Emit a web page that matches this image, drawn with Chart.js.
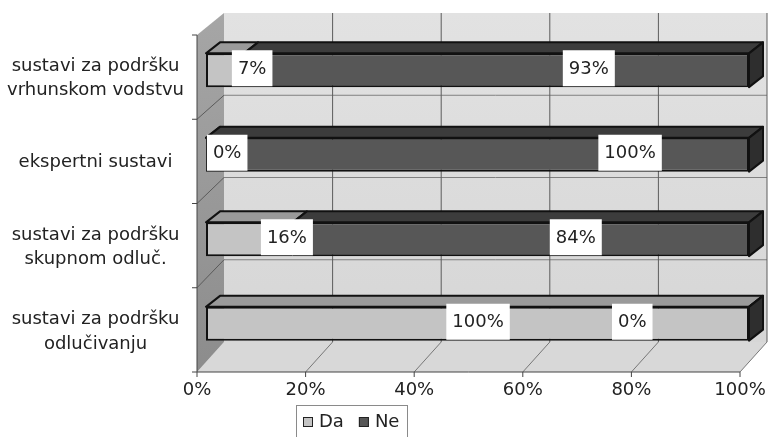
<!DOCTYPE html>
<html lang="hr">
<head>
<meta charset="utf-8">
<title>Sustavi za podršku</title>
<script src="https://cdn.jsdelivr.net/npm/chart.js@4.4.1/dist/chart.umd.min.js"></script>
<style>
  html, body { margin: 0; padding: 0; background: #fff; }
  #graf { display: block; }
</style>
</head>
<body>
<canvas id="graf" width="772" height="437"></canvas>
<script>
// podaci grafikona
const kategorije = [
  ['sustavi za podršku', 'vrhunskom vodstvu'],
  'ekspertni sustavi',
  ['sustavi za podršku', 'skupnom odluč.'],
  ['sustavi za podršku', 'odlučivanju']
];
const postotakDa = [7, 0, 16, 100];
const postotakNe = [93, 100, 84, 0];
const oznakeOsiX = [0, 20, 40, 60, 80, 100];

// sredine bijelih okvira s postocima, u jedinicama osi x
const sredinaOznakaDa = [8.5, 3.9, 14.9, 50.1];
const sredinaOznakaNe = [70.5, 78.1, 68.1, 78.5];

const FONT = 'DejaVu Sans';
const DUBINA_X = 14, DUBINA_Y = 11; // dubina samih stupaca

// pomoćne funkcije za crtanje
function linija(ctx, x1, y1, x2, y2) {
  ctx.beginPath();
  ctx.moveTo(x1, y1);
  ctx.lineTo(x2, y2);
  ctx.stroke();
}
function poligon(ctx, tocke, ispuna, rub) {
  ctx.beginPath();
  tocke.forEach((t, i) => i ? ctx.lineTo(t[0], t[1]) : ctx.moveTo(t[0], t[1]));
  ctx.closePath();
  if (ispuna) { ctx.fillStyle = ispuna; ctx.fill(); }
  if (rub) { ctx.strokeStyle = rub; ctx.stroke(); }
}

// prednja ravnina (os) i stražnji zid, izvedeno iz skale x i chartArea
function geometrija(chart) {
  const ca = chart.chartArea, xs = chart.scales.x;
  return {
    predX: v => xs.getPixelForValue(v) - 9,
    straX: v => xs.getPixelForValue(v) + 18,
    predGore: ca.top + 7,
    predDolje: ca.bottom + 6,
    straGore: ca.top - 15,
    straDolje: ca.bottom - 24
  };
}

// bez dodatnog razmaka koji skala rezervira za rubne oznake
function bezRubnogRazmaka(s) {
  s.paddingLeft = 0;
  s.paddingRight = 0;
  s.paddingTop = 0;
  s.paddingBottom = 0;
}

// zidovi, pod i mreža
const prostor = {
  id: 'prostor',
  beforeDatasetsDraw(chart) {
    const ctx = chart.ctx, g = geometrija(chart);
    const n = kategorije.length;
    ctx.save();

    // stražnji zid
    const zid = ctx.createLinearGradient(0, g.straGore, 0, g.straDolje);
    zid.addColorStop(0, '#e2e2e2');
    zid.addColorStop(1, '#d6d6d6');
    ctx.fillStyle = zid;
    ctx.fillRect(g.straX(0), g.straGore, g.straX(100) - g.straX(0), g.straDolje - g.straGore);

    // pod
    poligon(ctx, [[g.predX(0), g.predDolje], [g.straX(0), g.straDolje],
      [g.straX(100), g.straDolje], [g.predX(100), g.predDolje]], '#d8d8d8');

    // lijevi zid
    const bok = ctx.createLinearGradient(0, g.straGore, 0, g.predDolje);
    bok.addColorStop(0, '#a6a6a6');
    bok.addColorStop(1, '#8c8c8c');
    poligon(ctx, [[g.predX(0), g.predGore], [g.straX(0), g.straGore],
      [g.straX(0), g.straDolje], [g.predX(0), g.predDolje]], bok);

    ctx.lineWidth = 1;
    // vodoravne crte kategorija na stražnjem i lijevom zidu
    for (let i = 0; i <= n; i++) {
      const yS = g.straGore + i * (g.straDolje - g.straGore) / n;
      const yP = g.predGore + i * (g.predDolje - g.predGore) / n;
      ctx.strokeStyle = '#808080';
      if (i > 0 && i < n) linija(ctx, g.straX(0), yS, g.straX(100), yS);
      ctx.strokeStyle = '#5a5a5a';
      if (i > 0 && i < n) linija(ctx, g.predX(0), yP, g.straX(0), yS);
      ctx.strokeStyle = '#444';
      linija(ctx, g.predX(0) - 5, yP, g.predX(0), yP);
    }

    // okomite crte mreže i dijagonale na podu
    oznakeOsiX.forEach(v => {
      ctx.strokeStyle = '#5c5c5c';
      if (v > 0) linija(ctx, g.straX(v), g.straGore, g.straX(v), g.straDolje);
      ctx.strokeStyle = '#777';
      if (v > 0) linija(ctx, g.predX(v), g.predDolje, g.straX(v), g.straDolje);
      ctx.strokeStyle = '#444';
      linija(ctx, g.predX(v), g.predDolje, g.predX(v), g.predDolje + 5);
    });

    // osi
    ctx.strokeStyle = '#444';
    linija(ctx, g.predX(0), g.predGore, g.predX(0), g.predDolje);
    linija(ctx, g.predX(0), g.predDolje, g.predX(100), g.predDolje);
    ctx.restore();
  },

  // gornje plohe i desni bok stupaca
  afterDatasetsDraw(chart) {
    const ctx = chart.ctx;
    const zadnji = chart.data.datasets.length - 1;
    ctx.save();
    ctx.lineWidth = 2;
    ctx.lineJoin = 'round';
    chart.data.datasets.forEach((ds, di) => {
      chart.getDatasetMeta(di).data.forEach(bar => {
        const p = bar.getProps(['x', 'y', 'base', 'height'], true);
        const x0 = Math.min(p.x, p.base), x1 = Math.max(p.x, p.base);
        const yG = p.y - p.height / 2, yD = p.y + p.height / 2;
        poligon(ctx, [[x0, yG], [x0 + DUBINA_X, yG - DUBINA_Y],
          [x1 + DUBINA_X, yG - DUBINA_Y], [x1, yG]], ds.bojaVrha, '#111');
        if (di === zadnji) {
          poligon(ctx, [[x1, yG], [x1 + DUBINA_X, yG - DUBINA_Y],
            [x1 + DUBINA_X, yD - DUBINA_Y], [x1, yD]], ds.bojaBoka, '#111');
        }
      });
    });
    ctx.restore();
  },

  // bijeli okviri s postocima i legenda
  afterDraw(chart) {
    const ctx = chart.ctx, xs = chart.scales.x, ca = chart.chartArea;
    ctx.save();
    ctx.font = '18px "' + FONT + '"';
    ctx.textAlign = 'center';
    ctx.textBaseline = 'middle';
    const sredine = [sredinaOznakaDa, sredinaOznakaNe];
    chart.data.datasets.forEach((ds, di) => {
      chart.getDatasetMeta(di).data.forEach((bar, i) => {
        const tekst = ds.data[i] + '%';
        const w = ctx.measureText(tekst).width + 12, h = 36;
        const cx = xs.getPixelForValue(sredine[di][i]), cy = bar.y - 2;
        ctx.fillStyle = '#fff';
        ctx.fillRect(cx - w / 2, cy - h / 2, w, h);
        ctx.fillStyle = '#222';
        ctx.fillText(tekst, cx, cy + 1);
      });
    });

    // legenda
    const lx = ca.left + 90, ly = ca.bottom + 39;
    ctx.strokeStyle = '#8a8a8a';
    ctx.lineWidth = 1;
    ctx.strokeRect(lx + 0.5, ly + 0.5, 111, 40);
    ctx.textAlign = 'left';
    let x = lx + 7;
    chart.data.datasets.forEach(ds => {
      ctx.fillStyle = ds.backgroundColor;
      ctx.fillRect(x, ly + 12, 10, 10);
      ctx.strokeStyle = '#222';
      ctx.strokeRect(x + 0.5, ly + 12.5, 9, 9);
      ctx.fillStyle = '#222';
      ctx.fillText(ds.label, x + 16, ly + 17);
      x += ctx.measureText(ds.label).width + 31;
    });
    ctx.restore();
  }
};

const ctx = document.getElementById('graf').getContext('2d');

const chart = new Chart(ctx, {
  type: 'bar',
  data: {
    labels: kategorije,
    datasets: [
      {
        label: 'Da',
        data: postotakDa,
        backgroundColor: '#c4c4c4',
        bojaVrha: '#9a9a9a',
        bojaBoka: '#7a7a7a',
        borderColor: '#111',
        borderWidth: 2,
        borderSkipped: false
      },
      {
        label: 'Ne',
        data: postotakNe,
        backgroundColor: '#575757',
        bojaVrha: '#3c3c3c',
        bojaBoka: '#2e2e2e',
        borderColor: '#111',
        borderWidth: 2,
        borderSkipped: false
      }
    ]
  },
  options: {
    responsive: false,
    animation: false,
    indexAxis: 'y',
    layout: { padding: { top: 28, right: 23, left: 0, bottom: 0 } },
    categoryPercentage: 1,
    barPercentage: 0.4,
    plugins: {
      legend: { display: false },
      tooltip: { enabled: false }
    },
    scales: {
      x: {
        stacked: true,
        min: 0,
        max: 100,
        afterBuildTicks: s => { s.ticks = oznakeOsiX.map(v => ({ value: v })); },
        afterFit: s => { s.height = 71; bezRubnogRazmaka(s); },
        grid: { display: false, drawTicks: false },
        border: { display: false },
        ticks: {
          callback: v => v + '%',
          labelOffset: -9,
          padding: 14,
          maxRotation: 0,
          autoSkip: false,
          color: '#222',
          font: { family: FONT, size: 18 }
        }
      },
      y: {
        stacked: true,
        afterFit: s => { s.width = 206; bezRubnogRazmaka(s); },
        grid: { display: false, drawTicks: false },
        border: { display: false },
        ticks: {
          crossAlign: 'center',
          labelOffset: 8,
          padding: 22,
          color: '#222',
          font: { family: FONT, size: 18, lineHeight: 1.35 }
        }
      }
    }
  },
  plugins: [prostor]
});
</script>
</body>
</html>
